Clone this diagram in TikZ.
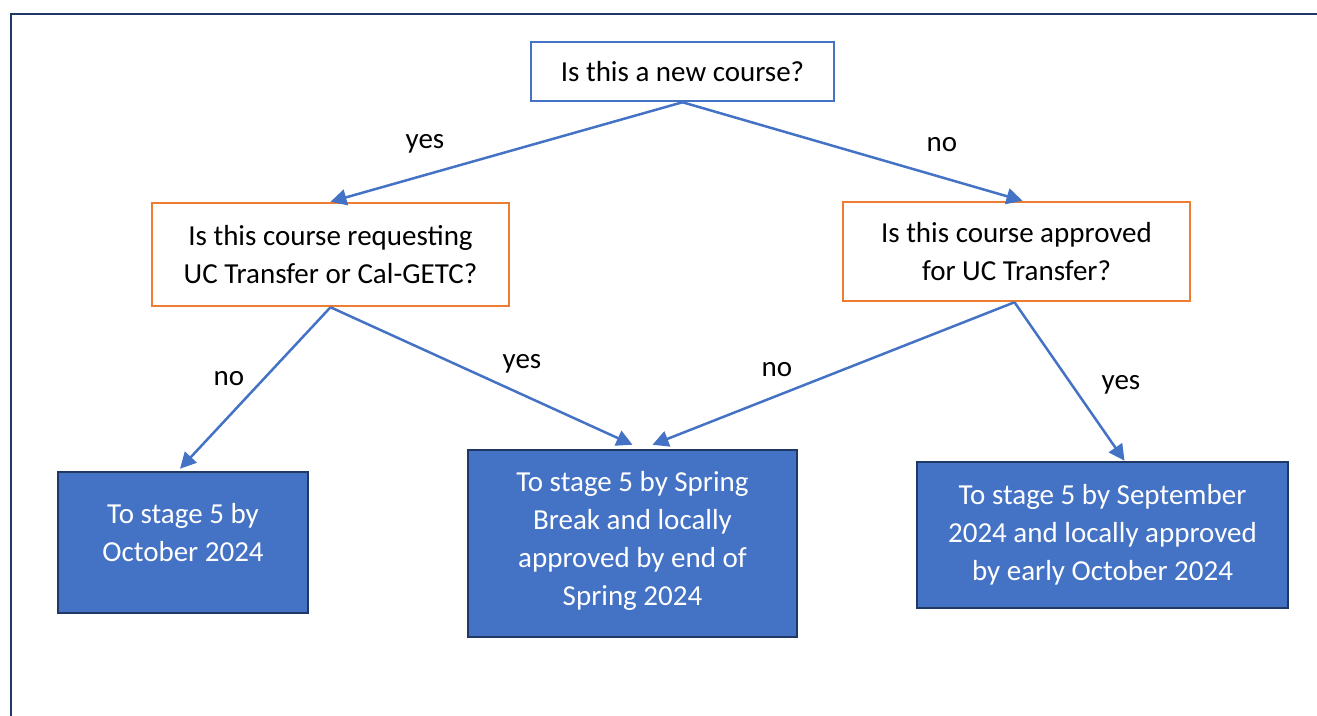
\documentclass[tikz,border=0pt]{standalone}
\usepackage{fontspec}
\setmainfont{Carlito}
\usepackage{xcolor}
\usepackage{tikz}
\usetikzlibrary{arrows.meta}

\definecolor{boxblue}{HTML}{4472C4}
\definecolor{boxorange}{HTML}{ED7D31}
\definecolor{framenavy}{HTML}{1F3864}
\definecolor{edgenavy}{HTML}{203864}

\tikzset{
    question/.style={shape=rectangle, draw=boxorange, line width=2.5pt, fill=white, align=center, inner sep=0pt, font=\fontsize{29}{38}\selectfont},
    outcome/.style={shape=rectangle, draw=edgenavy, line width=2.5pt, fill=boxblue, text=white, align=center, inner sep=0pt, font=\fontsize{29}{38}\selectfont},
    answer/.style={inner sep=0pt, font=\fontsize{29}{38}\selectfont},
    flow/.style={draw=boxblue, line width=2.5pt, -{Triangle[length=16pt,width=16pt]}}
}

\begin{document}
\begin{tikzpicture}[x=1pt, y=-1pt]
            \clip (0, 0) rectangle (1317, 715);
            \draw[framenavy, line width=2.8pt] (11, 14) rectangle (1340, 740);

            \node[question, draw=boxblue, minimum width=303pt, minimum height=59pt] (new) at (682.5, 71.5) {Is this a new course?};
            \node[question, minimum width=357pt, minimum height=103pt] (req) at (330.5, 254.5) {Is this course requesting\\UC Transfer or Cal-GETC?};
            \node[question, minimum width=347pt, minimum height=99pt] (appr) at (1016.5, 251.5) {Is this course approved\\for UC Transfer?};

            \node[outcome, minimum width=250pt, minimum height=141pt] (oct) at (183, 542.5) {To stage 5 by\\October 2024\\[-18pt]};
            \node[outcome, minimum width=329pt, minimum height=187pt] (spring) at (632.5, 543.5) {To stage 5 by Spring\\Break and locally\\approved by end of\\Spring 2024\\[-28pt]};
            \node[outcome, minimum width=371pt, minimum height=146pt] (sept) at (1102.5, 535) {To stage 5 by September\\2024 and locally approved\\by early October 2024};

            \node[answer] (yesA) at (425, 144) {yes};
            \node[answer] (noA) at (942, 145) {no};
            \node[answer] (noB) at (229, 379) {no};
            \node[answer] (yesB) at (522, 364) {yes};
            \node[answer] (noC) at (777, 370) {no};
            \node[answer] (yesC) at (1121, 385) {yes};

            \draw [flow] (new.south) -- (req.north);
            \draw [flow] (new.south) -- ([xshift=6pt]appr.north);

            \draw [flow] (req.south) -- ([xshift=-3pt, yshift=2pt]oct.north);
            \draw [flow] (req.south) -- ([yshift=4pt]spring.north);

            \draw [flow] ([xshift=-2pt]appr.south) -- ([xshift=20pt, yshift=4pt]spring.north);
            \draw [flow] ([xshift=-2pt]appr.south) -- ([xshift=22pt]sept.north);
        \end{tikzpicture}
\end{document}
